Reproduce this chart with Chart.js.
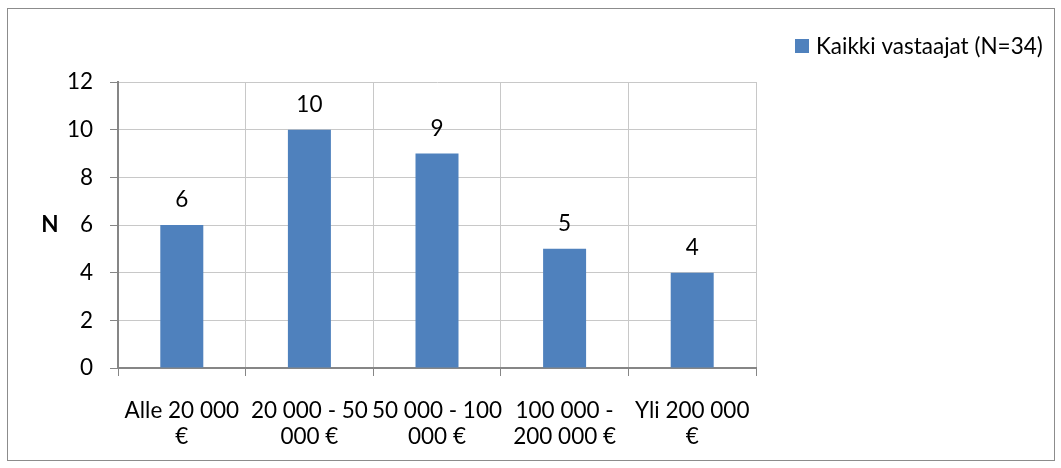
<!DOCTYPE html>
<html>
<head>
<meta charset="utf-8">
<script src="https://cdn.jsdelivr.net/npm/chart.js@4"></script>
<style>
  body { margin: 0; background: #fff; }
  #wrap { position: relative; width: 1061px; height: 468px; }
  #frame { position: absolute; left: 7px; top: 8px; width: 1046px; height: 451px; border: 1px solid #8c8c8c; pointer-events: none; }
</style>
</head>
<body>
<div id="wrap">
  <canvas id="myChart" width="1061" height="468"></canvas>
  <div id="frame"></div>
</div>
<script>
// Chart data
const categories = [
    ["Alle 20 000", "€"],
    ["20 000 - 50", "000 €"],
    ["50 000 - 100", "000 €"],
    ["100 000 -", "200 000 €"],
    ["Yli 200 000", "€"]
];
const seriesLabel = "Kaikki vastaajat (N=34)";
const seriesValues = [6, 10, 9, 5, 4];
const yTicks = [0, 2, 4, 6, 8, 10, 12];
const yTitle = "N";

const FONT = "Lato, 'Liberation Sans', sans-serif";
const SIZE = 22.5;
const BAR = "#4f81bd";

// value labels above bars + upright axis title
const valueLabels = {
    id: "valueLabels",
    afterDatasetsDraw(chart) {
        const ctx = chart.ctx;
        const meta = chart.getDatasetMeta(0);
        ctx.save();
        ctx.font = SIZE + "px " + FONT;
        ctx.fillStyle = "#000";
        ctx.textAlign = "center";
        ctx.textBaseline = "middle";
        meta.data.forEach((bar, i) => {
            ctx.fillText(String(seriesValues[i]), bar.x, bar.y - 25);
        });
        // y title, not rotated
        const area = chart.chartArea;
        ctx.font = "bold " + SIZE + "px " + FONT;
        ctx.fillText(yTitle, 50, (area.top + area.bottom) / 2);
        ctx.restore();
    }
};

// legend in the top right corner
const cornerLegend = {
    id: "cornerLegend",
    afterDraw(chart) {
        const ctx = chart.ctx;
        const ds = chart.data.datasets[0];
        ctx.save();
        ctx.fillStyle = ds.backgroundColor;
        ctx.fillRect(795, 39, 14, 14);
        ctx.font = SIZE + "px " + FONT;
        ctx.fillStyle = "#000";
        ctx.textBaseline = "middle";
        ctx.textAlign = "left";
        ctx.fillText(ds.label, 816, 47);
        ctx.restore();
    }
};

const ctx = document.getElementById("myChart").getContext("2d");
const chart = new Chart(ctx, {
    type: "bar",
    data: {
        labels: categories,
        datasets: [
            {
                label: seriesLabel,
                data: seriesValues,
                backgroundColor: BAR,
                barPercentage: 0.337,
                categoryPercentage: 1
            }
        ]
    },
    options: {
        responsive: false,
        animation: false,
        layout: { padding: { left: 20, top: 82, right: 305, bottom: 18 } },
        plugins: {
            legend: { display: false },
            tooltip: { enabled: false }
        },
        scales: {
            x: {
                afterFit: (s) => { s.height = 82; },
                grid: { color: "#c8c8c8", tickColor: "#868686", tickLength: 8, offset: true },
                border: { color: "#868686", width: 2 },
                ticks: { color: "#000", font: { family: FONT, size: SIZE, lineHeight: 1.16 }, padding: 22, maxRotation: 0, autoSkip: false }
            },
            y: {
                min: 0,
                max: 12,
                afterFit: (s) => { s.width = 98; },
                afterBuildTicks: (axis) => { axis.ticks = yTicks.map(v => ({ value: v })); },
                grid: { color: "#c8c8c8", tickColor: "#868686", tickLength: 8 },
                border: { color: "#868686", width: 2 },
                ticks: { color: "#000", font: { family: FONT, size: SIZE }, padding: 17 }
            }
        }
    },
    plugins: [valueLabels, cornerLegend]
});
</script>
</body>
</html>
